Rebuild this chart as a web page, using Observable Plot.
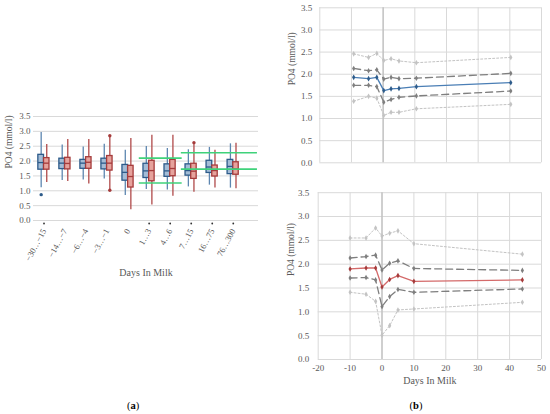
<!DOCTYPE html>
<html><head><meta charset="utf-8">
<script src="https://cdn.jsdelivr.net/npm/d3@7"></script>
<script src="https://cdn.jsdelivr.net/npm/@observablehq/plot@0.6"></script>
<style>
body{margin:0;background:#fff;}
#root{position:relative;width:550px;height:414px;overflow:hidden;font-family:"Liberation Serif",serif;}
#root svg, #root svg text{font-family:"Liberation Serif",serif !important;}
.cap{position:absolute;font-size:10.5px;color:#000;transform:translateX(-50%);white-space:nowrap;}
</style></head><body><div id="root"></div>
<script>
// ---------- Panel (a): box plots ----------
const categories = ["−30…−15","−14…−7","−6…−4","−3…−1","0","1…3","4…6","7…15","16…75","76…300"];
const blueHigh = [2.96, 2.54, 2.47, 2.57, 2.36, 2.49, 2.42, 2.38, 2.46, 2.58];
const blueQ3   = [2.21, 2.08, 2.04, 2.08, 1.87, 1.91, 1.89, 1.89, 2.01, 2.04];
const blueMed  = [1.95, 1.93, 1.93, 1.93, 1.62, 1.67, 1.67, 1.68, 1.80, 1.82];
const blueQ1   = [1.71, 1.73, 1.74, 1.72, 1.34, 1.43, 1.47, 1.51, 1.60, 1.56];
const blueLow  = [1.10, 1.35, 1.36, 1.40, 0.84, 1.04, 1.03, 1.13, 1.19, 1.09];
const redHigh  = [2.56, 2.73, 2.73, 2.82, 2.76, 2.87, 2.87, 2.58, 2.36, 2.60];
const redQ3    = [2.10, 2.11, 2.13, 2.17, 1.84, 2.01, 2.04, 1.91, 1.85, 1.96];
const redMed   = [1.93, 1.92, 1.96, 1.93, 1.48, 1.68, 1.75, 1.66, 1.68, 1.74];
const redQ1    = [1.71, 1.72, 1.74, 1.68, 1.11, 1.32, 1.49, 1.40, 1.48, 1.54];
const redLow   = [1.28, 1.31, 1.23, 1.04, 0.36, 0.52, 0.82, 0.95, 1.09, 1.07];
const blueOutliers = [{cat: "−30…−15", value: 0.87}];
const redOutliers  = [{cat: "−3…−1", value: 2.85}, {cat: "−3…−1", value: 1.02}, {cat: "7…15", value: 2.62}];
const significant = ["−30…−15","1…3","4…6","7…15","16…75","76…300"];
const refRanges = [
  {first: "1…3", last: "4…6", low: 1.26, high: 2.10},
  {first: "7…15", last: "76…300", low: 1.73, high: 2.28}
];
const yTicks = [0, 0.5, 1, 1.5, 2, 2.5, 3, 3.5];

// ---------- Panel (b): lines ----------
const daysTop      = [-9.3, -4.6, -2, 0.2, 2.5, 5, 10.5, 40.3];
const meanTop      = [1.93, 1.90, 1.93, 1.63, 1.67, 1.68, 1.72, 1.81];
const sdHighTop    = [2.13, 2.08, 2.10, 1.89, 1.93, 1.90, 1.91, 2.02];
const sdLowTop     = [1.75, 1.75, 1.72, 1.37, 1.43, 1.48, 1.51, 1.62];
const outerHighTop = [2.46, 2.38, 2.47, 2.31, 2.35, 2.30, 2.26, 2.38];
const outerLowTop  = [1.39, 1.50, 1.46, 1.07, 1.14, 1.14, 1.22, 1.32];

const daysBottom      = [-10, -5, -2, 0, 2.4, 5, 10, 44];
const meanBottom      = [1.90, 1.92, 1.92, 1.52, 1.68, 1.76, 1.64, 1.67];
const sdHighBottom    = [2.13, 2.16, 2.19, 1.88, 2.02, 2.07, 1.91, 1.87];
const sdLowBottom     = [1.71, 1.72, 1.67, 1.11, 1.32, 1.47, 1.41, 1.48];
const outerHighBottom = [2.55, 2.55, 2.76, 2.59, 2.65, 2.70, 2.43, 2.21];
const outerLowBottom  = [1.41, 1.37, 1.22, 0.51, 0.71, 1.04, 1.06, 1.20];
const xTicksB = [-20, -10, 0, 10, 20, 30, 40, 50];

const root = document.getElementById("root");
const place = (el, left, top) => { el.style.position = "absolute"; el.style.left = left + "px"; el.style.top = top + "px"; root.append(el); };
const baseStyle = {fontFamily: "\"Liberation Serif\", serif", fontSize: "9px", color: "#595959", background: "transparent", overflow: "visible"};
const fmt1 = d => d.toFixed(1);
const GRID = "#d9d9d9";

// ---- build panel (a) ----
const idx = c => categories.indexOf(c);
const boxes = categories.flatMap((c, i) => [
  {i, x1: i - 0.27, x2: i, lo: blueLow[i], q1: blueQ1[i], med: blueMed[i], q3: blueQ3[i], hi: blueHigh[i], fill: "#a3bcd6", stroke: "#2d5b8a", wh: "#5d86b0"},
  {i, x1: i, x2: i + 0.26, lo: redLow[i], q1: redQ1[i], med: redMed[i], q3: redQ3[i], hi: redHigh[i], fill: "#e6a29c", stroke: "#a53b3b", wh: "#b04a4a"}
]);
const xMaxA = 10.2;
const ranges = refRanges.flatMap(r => {
  const x1 = idx(r.first) - 0.47;
  const x2 = idx(r.last) === categories.length - 1 ? xMaxA - 0.05 : idx(r.last) + 0.57;
  return [{x1, x2, y: r.low}, {x1, x2, y: r.high}];
});
const outA = [
  ...blueOutliers.map(o => ({x: idx(o.cat) - 0.135, y: o.value, c: "#2d5b8a"})),
  ...redOutliers.map(o => ({x: idx(o.cat) + 0.13, y: o.value, c: "#a53b3b"}))
];

const plotA = Plot.plot({
  width: 265, height: 200,
  marginLeft: 33, marginRight: 7, marginTop: 16, marginBottom: 80,
  style: baseStyle,
  x: {domain: [-0.5, xMaxA], axis: null},
  y: {domain: [0, 3.5], axis: null},
  marks: [
    Plot.gridY(yTicks, {stroke: GRID, strokeOpacity: 1}),
    Plot.axisY(yTicks, {tickSize: 0, tickPadding: 3, tickFormat: fmt1, fontSize: 9, label: null}),
    Plot.axisX(d3.range(categories.length), {tickSize: 0, tickPadding: 9, tickRotate: -62, tickFormat: i => categories[i], fontSize: 8.5, label: null}),
    Plot.ruleX(boxes, {x: d => (d.x1 + d.x2) / 2, y1: "lo", y2: "hi", stroke: "wh", strokeWidth: 1.3}),
    Plot.rect(boxes, {x1: "x1", x2: "x2", y1: "q1", y2: "q3", fill: "fill", stroke: "stroke", strokeWidth: 1.3}),
    Plot.ruleY(boxes, {y: "med", x1: "x1", x2: "x2", stroke: "stroke", strokeWidth: 1.3}),
    Plot.dot(outA, {x: "x", y: "y", r: 1.7, fill: "c", stroke: null}),
    Plot.ruleY(ranges, {y: "y", x1: "x1", x2: "x2", stroke: "#3fd27a", strokeWidth: 1.6}),
    Plot.dot(significant, {x: d => idx(d), frameAnchor: "bottom", dy: 3, r: 0.9, fill: "#333", stroke: null}),
    Plot.text(["PO4 (mmol/l)"], {frameAnchor: "left", rotate: -90, dx: -25, fontSize: 9.5, fill: "#595959"}),
    Plot.text(["Days In Milk"], {frameAnchor: "bottom", dy: 55, fontSize: 10, fill: "#595959"})
  ]
});
place(plotA, 0, 100);

// ---- build panel (b) ----
function panelB({days, mean, sdHigh, sdLow, outerHigh, outerLow, meanColor, meanDot, width, height, ml, mt, mb, showX, yPad, yDx}) {
  const rows = ys => days.map((d, i) => ({x: d, y: ys[i]}));
  const series = [
    {ys: outerHigh, stroke: "#c3c3c3", dash: "2,2", dot: "#c3c3c3", sw: 1},
    {ys: outerLow,  stroke: "#c3c3c3", dash: "2,2", dot: "#c3c3c3", sw: 1},
    {ys: sdHigh, stroke: "#7f7f7f", dash: "7,4", dot: "#7f7f7f", sw: 1.3},
    {ys: sdLow,  stroke: "#7f7f7f", dash: "7,4", dot: "#7f7f7f", sw: 1.3},
    {ys: mean, stroke: meanColor, dash: null, dot: meanDot, sw: 1.3}
  ];
  const marks = [
    Plot.gridY(yTicks, {stroke: GRID, strokeOpacity: 1}),
    Plot.gridX(xTicksB, {stroke: GRID, strokeOpacity: 1}),
    Plot.ruleX([0], {stroke: "#bdbdbd", strokeWidth: 1.2}),
    Plot.axisY(yTicks, {tickSize: 0, tickPadding: yPad, tickFormat: fmt1, fontSize: 9, label: null}),
    Plot.text(["PO4 (mmol/l)"], {frameAnchor: "left", rotate: -90, dx: yDx, fontSize: 9.5, fill: "#595959"})
  ];
  if (showX) {
    marks.push(Plot.axisX(xTicksB, {tickSize: 0, tickPadding: 5, tickFormat: d => String(d), fontSize: 9, label: null}));
    marks.push(Plot.text(["Days In Milk"], {frameAnchor: "bottom", dy: 24, fontSize: 10, fill: "#595959"}));
  }
  for (const s of series) {
    marks.push(Plot.line(rows(s.ys), {x: "x", y: "y", stroke: s.stroke, strokeWidth: s.sw, strokeDasharray: s.dash}));
    marks.push(Plot.dot(rows(s.ys), {x: "x", y: "y", symbol: "diamond", r: 1.7, fill: s.dot, stroke: null}));
  }
  return Plot.plot({
    width, height, marginLeft: ml, marginRight: 9, marginTop: mt, marginBottom: mb,
    style: baseStyle,
    x: {domain: [-20, 50], axis: null},
    y: {domain: [0, 3.5], axis: null},
    marks
  });
}

place(panelB({days: daysTop, mean: meanTop, sdHigh: sdHighTop, sdLow: sdLowTop, outerHigh: outerHighTop, outerLow: outerLowTop,
  meanColor: "#4a7eb5", meanDot: "#2d5b8a", width: 270, height: 185, ml: 39.3, mt: 7.3, mb: 22.7, showX: false, yPad: 7.5, yDx: -27.6}), 280, 0);
place(panelB({days: daysBottom, mean: meanBottom, sdHigh: sdHighBottom, sdLow: sdLowBottom, outerHigh: outerHighBottom, outerLow: outerLowBottom,
  meanColor: "#d46a6a", meanDot: "#a53b3b", width: 270, height: 229, ml: 37.7, mt: 7.2, mb: 55, showX: true, yPad: 9, yDx: -27.7}), 280, 185);

// captions
for (const [t, x] of [["a", 133], ["b", 416]]) {
  const d = document.createElement("div");
  d.className = "cap";
  d.innerHTML = `(<b>${t}</b>)`;
  d.style.left = x + "px"; d.style.top = "400px";
  root.append(d);
}
</script></body></html>
